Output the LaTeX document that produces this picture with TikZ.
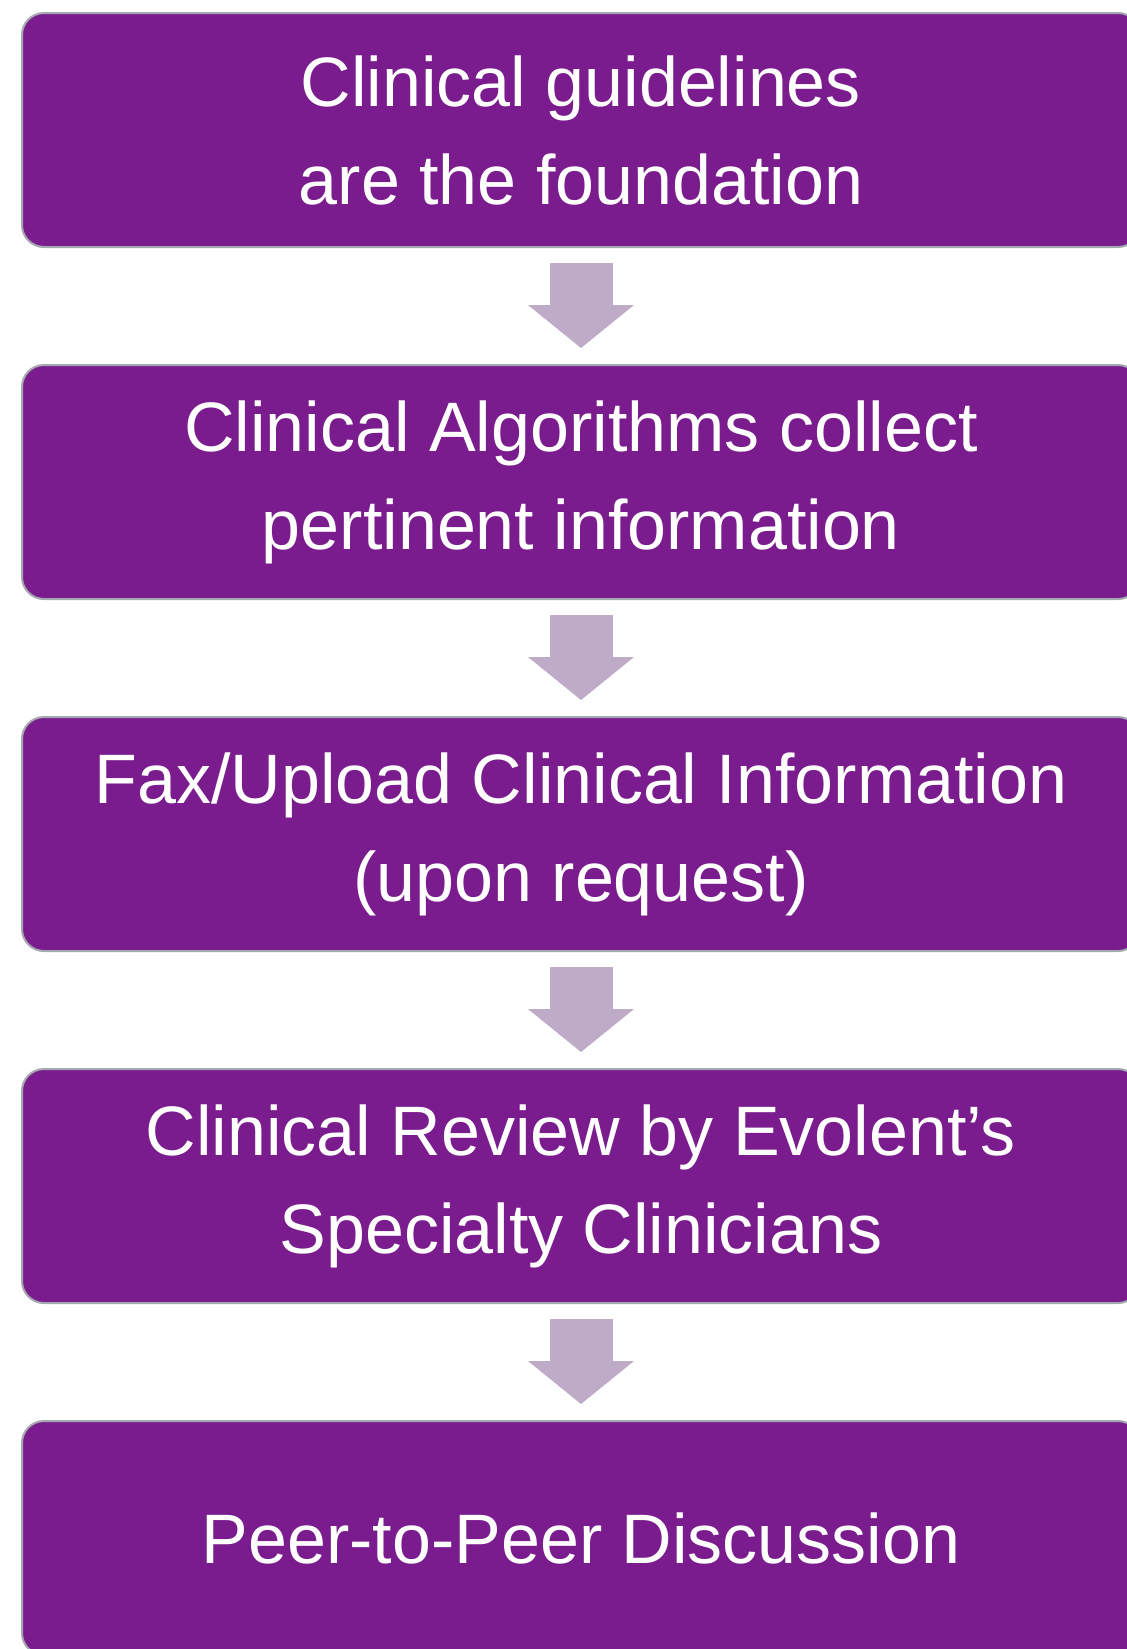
\documentclass[tikz,border=0pt]{standalone}
\usepackage{fontspec}
\setmainfont{Liberation Sans}
\usetikzlibrary{arrows.meta}
\definecolor{boxpurple}{HTML}{7B1C8E}
\definecolor{boxedge}{HTML}{A3A9AD}
\definecolor{arrowlilac}{HTML}{BEABC8}
\tikzset{
    stepbox/.style={rectangle, rounded corners=11pt, fill=boxpurple,
        draw=boxedge, line width=1pt, minimum width=559pt,
        minimum height=117pt, text=white, align=center,
        font=\fontsize{35}{49}\selectfont},
    flow/.style={arrowlilac, line width=31.5pt,
        -{Triangle[width=53pt, length=21.5pt, line width=0pt]},
        shorten <=7.5pt, shorten >=8pt}
}

\begin{document}
\begin{tikzpicture}[x=0.5pt, y=-0.5pt]
  \path[use as bounding box, clip] (0,0) rectangle (1127,1649);

  \node (guide) [stepbox] at (581, 130) {Clinical guidelines\\are the foundation};
  \node (algo) [stepbox] at (581, 482) {Clinical Algorithms collect\\pertinent information};
  \node (fax) [stepbox] at (581, 834) {Fax/Upload Clinical Information\\(upon request)};
  \node (review) [stepbox] at (581, 1186) {Clinical Review by Evolent’s\\Specialty Clinicians};
  \node (peer) [stepbox] at (581, 1538) {Peer-to-Peer Discussion};

  \draw[flow] (guide) -- (algo);
  \draw[flow] (algo) -- (fax);
  \draw[flow] (fax) -- (review);
  \draw[flow] (review) -- (peer);
\end{tikzpicture}
\end{document}
